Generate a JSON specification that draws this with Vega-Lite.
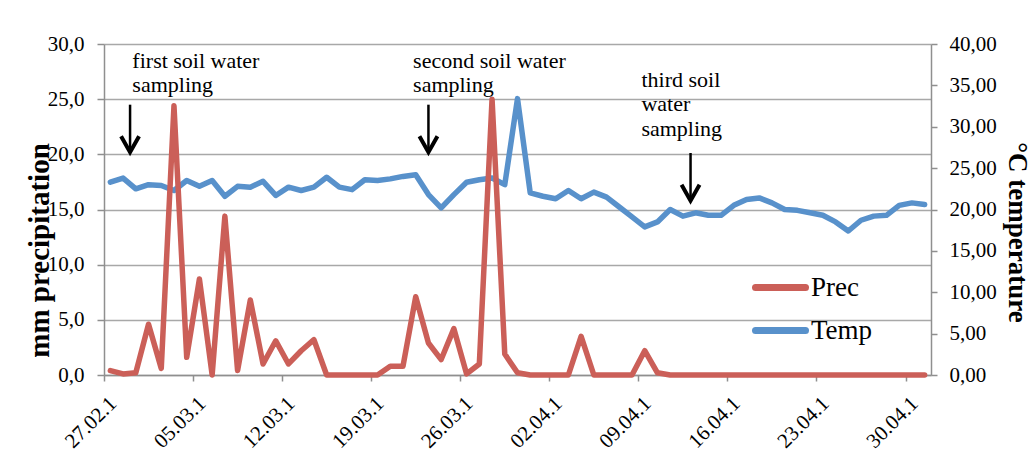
{
  "$schema": "https://vega.github.io/schema/vega-lite/v6.json",
  "width": 827,
  "height": 331,
  "autosize": {"type": "none"},
  "padding": {"left": 104, "top": 44, "right": 101, "bottom": 84},
  "background": "white",
  "config": {
    "view": {"stroke": null},
    "font": "Liberation Serif"
  },
  "datasets": {
    "weather": [
      {"date": "2012-02-27T12:00", "prec": 0.4, "temp": 23.3},
      {"date": "2012-02-28T12:00", "prec": 0.1, "temp": 23.8},
      {"date": "2012-02-29T12:00", "prec": 0.2, "temp": 22.5},
      {"date": "2012-03-01T12:00", "prec": 4.6, "temp": 23.0},
      {"date": "2012-03-02T12:00", "prec": 0.6, "temp": 22.9},
      {"date": "2012-03-03T12:00", "prec": 24.4, "temp": 22.3},
      {"date": "2012-03-04T12:00", "prec": 1.6, "temp": 23.5},
      {"date": "2012-03-05T12:00", "prec": 8.7, "temp": 22.8},
      {"date": "2012-03-06T12:00", "prec": 0.0, "temp": 23.5},
      {"date": "2012-03-07T12:00", "prec": 14.4, "temp": 21.6},
      {"date": "2012-03-08T12:00", "prec": 0.4, "temp": 22.8},
      {"date": "2012-03-09T12:00", "prec": 6.8, "temp": 22.7},
      {"date": "2012-03-10T12:00", "prec": 1.0, "temp": 23.4},
      {"date": "2012-03-11T12:00", "prec": 3.1, "temp": 21.7},
      {"date": "2012-03-12T12:00", "prec": 1.0, "temp": 22.7},
      {"date": "2012-03-13T12:00", "prec": 2.2, "temp": 22.3},
      {"date": "2012-03-14T12:00", "prec": 3.2, "temp": 22.7},
      {"date": "2012-03-15T12:00", "prec": 0.0, "temp": 23.9},
      {"date": "2012-03-16T12:00", "prec": 0.0, "temp": 22.7},
      {"date": "2012-03-17T12:00", "prec": 0.0, "temp": 22.4},
      {"date": "2012-03-18T12:00", "prec": 0.0, "temp": 23.6},
      {"date": "2012-03-19T12:00", "prec": 0.0, "temp": 23.5},
      {"date": "2012-03-20T12:00", "prec": 0.8, "temp": 23.7},
      {"date": "2012-03-21T12:00", "prec": 0.8, "temp": 24.0},
      {"date": "2012-03-22T12:00", "prec": 7.1, "temp": 24.2},
      {"date": "2012-03-23T12:00", "prec": 2.9, "temp": 21.8},
      {"date": "2012-03-24T12:00", "prec": 1.4, "temp": 20.2},
      {"date": "2012-03-25T12:00", "prec": 4.2, "temp": 21.8},
      {"date": "2012-03-26T12:00", "prec": 0.1, "temp": 23.3},
      {"date": "2012-03-27T12:00", "prec": 1.0, "temp": 23.6},
      {"date": "2012-03-28T12:00", "prec": 25.0, "temp": 23.8},
      {"date": "2012-03-29T12:00", "prec": 1.9, "temp": 23.0},
      {"date": "2012-03-30T12:00", "prec": 0.2, "temp": 33.4},
      {"date": "2012-03-31T12:00", "prec": 0.0, "temp": 22.0},
      {"date": "2012-04-01T12:00", "prec": 0.0, "temp": 21.6},
      {"date": "2012-04-02T12:00", "prec": 0.0, "temp": 21.3},
      {"date": "2012-04-03T12:00", "prec": 0.0, "temp": 22.3},
      {"date": "2012-04-04T12:00", "prec": 3.5, "temp": 21.3},
      {"date": "2012-04-05T12:00", "prec": 0.0, "temp": 22.1},
      {"date": "2012-04-06T12:00", "prec": 0.0, "temp": 21.5},
      {"date": "2012-04-07T12:00", "prec": 0.0, "temp": 20.3},
      {"date": "2012-04-08T12:00", "prec": 0.0, "temp": 19.1},
      {"date": "2012-04-09T12:00", "prec": 2.2, "temp": 17.9},
      {"date": "2012-04-10T12:00", "prec": 0.2, "temp": 18.5},
      {"date": "2012-04-11T12:00", "prec": 0.0, "temp": 20.0},
      {"date": "2012-04-12T12:00", "prec": 0.0, "temp": 19.2},
      {"date": "2012-04-13T12:00", "prec": 0.0, "temp": 19.6},
      {"date": "2012-04-14T12:00", "prec": 0.0, "temp": 19.3},
      {"date": "2012-04-15T12:00", "prec": 0.0, "temp": 19.3},
      {"date": "2012-04-16T12:00", "prec": 0.0, "temp": 20.5},
      {"date": "2012-04-17T12:00", "prec": 0.0, "temp": 21.2},
      {"date": "2012-04-18T12:00", "prec": 0.0, "temp": 21.4},
      {"date": "2012-04-19T12:00", "prec": 0.0, "temp": 20.8},
      {"date": "2012-04-20T12:00", "prec": 0.0, "temp": 20.0},
      {"date": "2012-04-21T12:00", "prec": 0.0, "temp": 19.9},
      {"date": "2012-04-22T12:00", "prec": 0.0, "temp": 19.6},
      {"date": "2012-04-23T12:00", "prec": 0.0, "temp": 19.3},
      {"date": "2012-04-24T12:00", "prec": 0.0, "temp": 18.5},
      {"date": "2012-04-25T12:00", "prec": 0.0, "temp": 17.4},
      {"date": "2012-04-26T12:00", "prec": 0.0, "temp": 18.7},
      {"date": "2012-04-27T12:00", "prec": 0.0, "temp": 19.2},
      {"date": "2012-04-28T12:00", "prec": 0.0, "temp": 19.3},
      {"date": "2012-04-29T12:00", "prec": 0.0, "temp": 20.5},
      {"date": "2012-04-30T12:00", "prec": 0.0, "temp": 20.8},
      {"date": "2012-05-01T12:00", "prec": 0.0, "temp": 20.6}
    ],
    "notes": [
      {"t": "2012-02-29T05:30", "v": 27.83, "label": "first soil water\nsampling"},
      {"t": "2012-03-22T07:00", "v": 27.83, "label": "second soil water\nsampling"},
      {"t": "2012-04-09T05:45", "v": 26.13, "label": "third soil\nwater\nsampling"}
    ],
    "arrows": [
      {"t": "2012-02-29T01:10", "top": 24.5, "tip": 20.19},
      {"t": "2012-03-23T12:00", "top": 24.5, "tip": 20.19},
      {"t": "2012-04-13T02:25", "top": 20.12, "tip": 15.79}
    ]
  },
  "layer": [
    {
      "data": {"name": "weather"},
      "mark": {"type": "line", "strokeWidth": 5.5, "strokeCap": "round", "strokeJoin": "round"},
      "encoding": {
        "x": {
          "field": "date", "type": "temporal",
          "scale": {"domain": [{"year": 2012, "month": 2, "date": 27}, {"year": 2012, "month": 5, "date": 2}]},
          "axis": {
            "orient": "bottom",
            "title": null,
            "grid": false,
            "values": [
              {"year": 2012, "month": 2, "date": 27},
              {"year": 2012, "month": 3, "date": 5},
              {"year": 2012, "month": 3, "date": 12},
              {"year": 2012, "month": 3, "date": 19},
              {"year": 2012, "month": 3, "date": 26},
              {"year": 2012, "month": 4, "date": 2},
              {"year": 2012, "month": 4, "date": 9},
              {"year": 2012, "month": 4, "date": 16},
              {"year": 2012, "month": 4, "date": 23},
              {"year": 2012, "month": 4, "date": 30}
            ],
            "format": "%d.%m.1",
            "labelAngle": -45,
            "labelAlign": "right",
            "labelBaseline": "middle",
            "labelPadding": 19,
            "labelOffset": 9,
            "labelFont": "Liberation Serif",
            "labelFontSize": 21,
            "labelColor": "black",
            "labelOverlap": false,
            "labelFlush": false,
            "domainColor": "#8f8f8f",
            "domainWidth": 1.5,
            "tickColor": "#8f8f8f",
            "tickWidth": 1.5,
            "tickSize": 6
          }
        },
        "y": {
          "field": "temp", "type": "quantitative",
          "scale": {"domain": [0, 40], "nice": false, "zero": true},
          "axis": {
            "orient": "right",
            "values": [0, 5, 10, 15, 20, 25, 30, 35, 40],
            "labelExpr": "replace(format(datum.value, '.2f'), '.', ',')",
            "grid": false,
            "domainColor": "#8f8f8f",
            "domainWidth": 1.5,
            "tickColor": "#8f8f8f",
            "tickWidth": 1.5,
            "tickSize": 6,
            "labelPadding": 12,
            "labelFont": "Liberation Serif",
            "labelFontSize": 21,
            "labelColor": "black",
            "labelFlush": false,
            "title": "°C temperature",
            "titleFont": "Liberation Serif",
            "titleFontSize": 27,
            "titleFontWeight": "bold",
            "titleColor": "black",
            "titleAngle": 90,
            "titleAlign": "center",
            "titleBaseline": "alphabetic",
            "titleX": 77,
            "titleY": 188
          }
        },
        "color": {
          "datum": "Temp", "type": "nominal",
          "scale": {"domain": ["Prec", "Temp"], "range": ["#cb5f58", "#5891cb"]},
          "legend": {
            "orient": "none",
            "legendX": 648,
            "legendY": 215,
            "title": null,
            "padding": 0,
            "symbolType": "stroke",
            "symbolStrokeWidth": 7,
            "symbolSize": 2500,
            "labelFont": "Liberation Serif",
            "labelFontSize": 27,
            "labelColor": "black",
            "labelOffset": 2,
            "rowPadding": 0,
            "encode": {
              "symbols": {"update": {"strokeCap": {"value": "round"}}}
            }
          }
        }
      }
    },
    {
      "layer": [
        {
          "data": {"name": "weather"},
          "mark": {"type": "line", "strokeWidth": 5.5, "strokeCap": "round", "strokeJoin": "round"},
          "encoding": {
            "x": {"field": "date", "type": "temporal"},
            "y": {
              "field": "prec", "type": "quantitative",
              "scale": {"domain": [0, 30], "nice": false, "zero": true},
              "axis": {
                "orient": "left",
                "values": [0, 5, 10, 15, 20, 25, 30],
                "labelExpr": "replace(format(datum.value, '.1f'), '.', ',')",
                "grid": true,
                "gridColor": "#a8a8a8",
                "gridWidth": 1.5,
                "domainColor": "#8f8f8f",
                "domainWidth": 1.5,
                "tickColor": "#8f8f8f",
                "tickWidth": 1.5,
                "tickSize": 7,
                "labelPadding": 13,
                "labelFont": "Liberation Serif",
                "labelFontSize": 21,
                "labelColor": "black",
                "labelFlush": false,
                "title": "mm precipitation",
                "titleFont": "Liberation Serif",
                "titleFontSize": 29,
                "titleFontWeight": "bold",
                "titleColor": "black",
                "titleAngle": -90,
                "titleAlign": "center",
                "titleBaseline": "alphabetic",
                "titleX": -56,
                "titleY": 206
              }
            },
            "color": {"datum": "Prec", "type": "nominal"}
          }
        },
        {
          "data": {"name": "notes"},
          "mark": {"type": "text", "align": "left", "baseline": "alphabetic", "font": "Liberation Serif", "fontSize": 22, "lineBreak": "\n", "lineHeight": 24.5, "color": "black"},
          "encoding": {
            "x": {"field": "t", "type": "temporal"},
            "y": {"field": "v", "type": "quantitative"},
            "text": {"field": "label"}
          }
        },
        {
          "data": {"name": "arrows"},
          "mark": {"type": "rule", "strokeWidth": 2.5, "color": "black"},
          "encoding": {
            "x": {"field": "t", "type": "temporal"},
            "y": {"field": "top", "type": "quantitative"},
            "y2": {"field": "tip"}
          }
        },
        {
          "data": {"name": "arrows"},
          "mark": {"type": "point", "shape": "M -0.5625 -1 L 0 0 L 0.5625 -1", "size": 1024, "filled": false, "stroke": "black", "strokeWidth": 4, "opacity": 1, "strokeJoin": "miter"},
          "encoding": {
            "x": {"field": "t", "type": "temporal"},
            "y": {"field": "tip", "type": "quantitative"}
          }
        }
      ]
    }
  ],
  "resolve": {"scale": {"y": "independent"}}
}
